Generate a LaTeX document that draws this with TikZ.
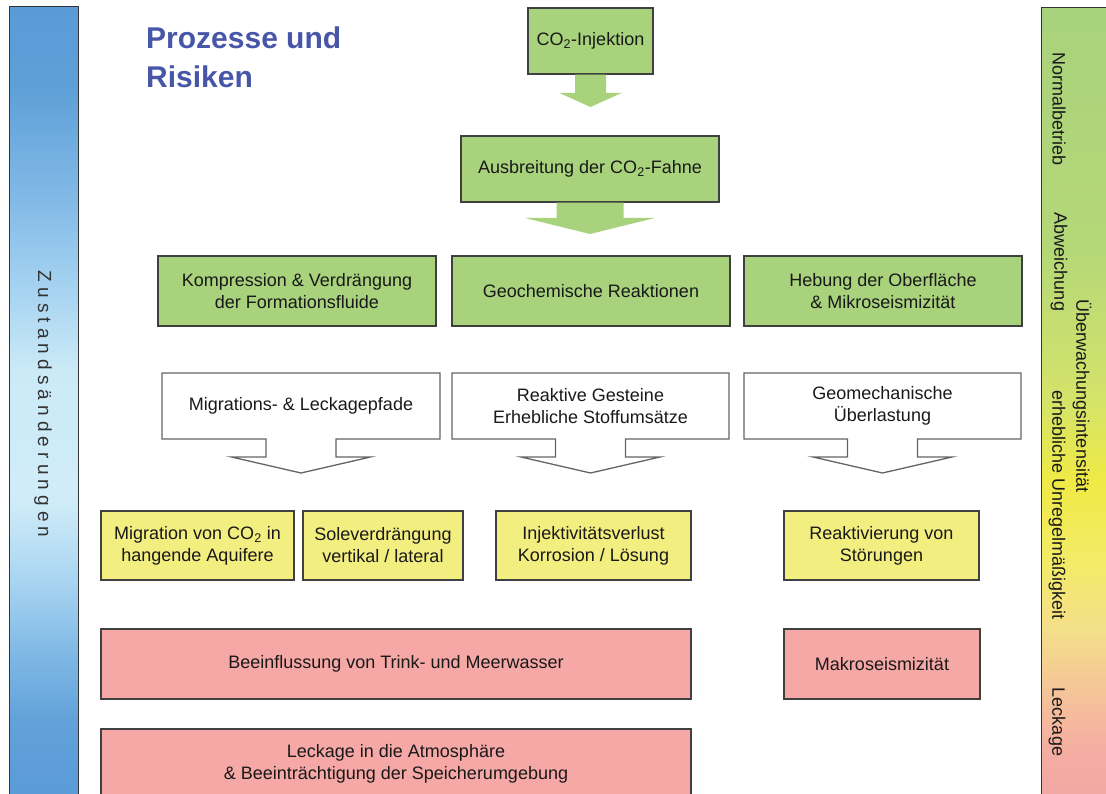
\documentclass[tikz,border=0pt]{standalone}
\usepackage{fontspec}
\setmainfont{Liberation Sans}
\usetikzlibrary{calc}

\definecolor{gruen}{RGB}{168,210,124}
\definecolor{gelb}{RGB}{243,238,128}
\definecolor{rot}{RGB}{245,168,166}
\definecolor{rahmen}{RGB}{64,64,64}
\definecolor{grau}{RGB}{100,100,100}
\definecolor{titelblau}{RGB}{72,86,168}
% Farben der Randbalken
\definecolor{za}{HTML}{5A9AD6}
\definecolor{zb}{HTML}{5FA0D8}
\definecolor{zc}{HTML}{82BAE7}
\definecolor{zd}{HTML}{ABD6F2}
\definecolor{ze}{HTML}{CBEAF7}
\definecolor{zf}{HTML}{D0ECF8}
\definecolor{zg}{HTML}{A9D5F1}
\definecolor{zh}{HTML}{7CB6E4}
\definecolor{zi}{HTML}{62A1D9}
\definecolor{ua}{HTML}{A8D27D}
\definecolor{ub}{HTML}{B5D877}
\definecolor{uc}{HTML}{D4E36A}
\definecolor{ud}{HTML}{EFEA45}
\definecolor{ue}{HTML}{F3EB66}
\definecolor{uf}{HTML}{F4DF8A}
\definecolor{ug}{HTML}{F5C09A}
\definecolor{uh}{HTML}{F5AAA3}
\definecolor{ui}{HTML}{F4A7A4}

\pgfdeclareverticalshading{zustand}{100bp}{color(0bp)=(za); color(25bp)=(za); color(30bp)=(zi); color(33.8bp)=(zh); color(38.9bp)=(zg); color(43.9bp)=(zf); color(52.1bp)=(ze); color(56.5bp)=(zd); color(62.8bp)=(zc); color(69.8bp)=(zb); color(75bp)=(za); color(100bp)=(za)}
\pgfdeclareverticalshading{ueberwachung}{100bp}{color(0bp)=(ui); color(25bp)=(ui); color(27.5bp)=(uh); color(31.3bp)=(ug); color(35.7bp)=(uf); color(40.2bp)=(ue); color(45.2bp)=(ud); color(50.3bp)=(uc); color(59.7bp)=(ub); color(75bp)=(ua); color(100bp)=(ua)}

\begin{document}
\begin{tikzpicture}[x=1pt,y=-1pt]
\tikzstyle{kasten}=[draw=rahmen,line width=1.3pt,inner sep=0pt,outer sep=0pt,align=center,text=black!90,font=\fontsize{18}{22}\selectfont]
\tikzstyle{kasten gruen}=[kasten,fill=gruen,minimum height=70]
\tikzstyle{kasten weiss}=[kasten,draw=none,minimum height=66]
\tikzstyle{kasten gelb}=[kasten,fill=gelb,minimum height=69]
\tikzstyle{kasten rot}=[kasten,fill=rot,minimum height=70]
\tikzstyle{umriss}=[draw=grau,line width=1.3pt]
\tikzstyle{balken}=[draw=black!80,line width=1pt,inner sep=0pt]
\tikzstyle{randtext}=[rotate=-90,inner sep=0pt,text=black!90,font=\fontsize{18}{22}\selectfont]

\useasboundingbox (0,0) rectangle (1106,794);

% Randbalken
\node[balken,shading=zustand,minimum width=69,minimum height=793] (v20) at (43.5,403.5) {};
\node[balken,shading=ueberwachung,minimum width=69,minimum height=792] (v21) at (1075.5,404) {};
\node[randtext,text=black!80,font=\fontsize{19}{22}\selectfont\addfontfeature{LetterSpace=27}] (v22) at (43,404) {Zustandsänderungen};
\node[randtext] (v23) at (1059,109) {Normalbetrieb};
\node[randtext] (v24) at (1059,262) {Abweichung};
\node[randtext] (v25) at (1057,505) {erhebliche Unregelmäßigkeit};
\node[randtext] (v26) at (1057,722) {Leckage};
\node[randtext] (v27) at (1082,396) {Überwachungsintensität};

\node[anchor=base west,inner sep=0pt,align=left,text=titelblau,font=\fontsize{30}{39}\selectfont\bfseries] (v0) at (146,88) {Prozesse und\\Risiken};

\node[kasten gruen,minimum width=125,minimum height=66] (v1) at (590.5,41) {CO\textsubscript{2}-Injektion};
\node[kasten gruen,minimum width=258,minimum height=66] (v2) at (590,169) {Ausbreitung der CO\textsubscript{2}-Fahne};
\node[kasten gruen,minimum width=278] (v3) at (297,291) {Kompression \& Verdrängung\\der Formationsfluide};
\node[kasten gruen,minimum width=278] (v4) at (591,291) {Geochemische Reaktionen};
\node[kasten gruen,minimum width=278] (v5) at (883,291) {Hebung der Oberfläche\\\& Mikroseismizität};
\node[kasten weiss,minimum width=278] (v6) at (301,406) {Migrations- \& Leckagepfade};
\node[kasten weiss,minimum width=277] (v7) at (590.5,406) {Reaktive Gesteine\\Erhebliche Stoffumsätze};
\node[kasten weiss,minimum width=277] (v8) at (882.5,406) {Geomechanische\\Überlastung};
\node[kasten gelb,minimum width=193] (v9) at (197.5,545.5) {Migration von CO\textsubscript{2} in\\hangende Aquifere};
\node[kasten gelb,minimum width=160] (v10) at (383,545.5) {Soleverdrängung\\vertikal / lateral};
\node[kasten gelb,minimum width=195] (v11) at (593.5,545.5) {Injektivitätsverlust\\Korrosion / Lösung};
\node[kasten gelb,minimum width=195] (v12) at (881.5,545.5) {Reaktivierung von\\Störungen};
\node[kasten rot,minimum width=590] (v13) at (396,664) {Beeinflussung von Trink- und Meerwasser};
\node[kasten rot,minimum width=196] (v14) at (882,664) {Makroseismizität};
\node[kasten rot,minimum width=590] (v15) at (396,764) {Leckage in die Atmosphäre\\\& Beeinträchtigung der Speicherumgebung};

% Blockpfeile
\fill[gruen] ($(v1.south)+(-15.5,0.65)$) -- ++(0,18.35) -- ++(-15.5,0) -- ++(31,14) -- ++(31,-14) -- ++(-15.5,0) -- ++(0,-18.35) -- cycle;
\fill[gruen] ($(v2.south)+(-33.5,0.65)$) -- ++(0,15.35) -- ++(-31.5,0) -- ++(65,16) -- ++(65,-16) -- ++(-31.5,0) -- ++(0,-15.35) -- cycle;
\draw[umriss] (v6.north west) -- (v6.north east) -- (v6.south east) -- ($(v6.south)+(35,0)$) -- ++(0,18) -- ++(34.5,0) -- ($(v6.south)+(0,34)$) -- ++(-69.5,-16) -- ++(34.5,0) -- ++(0,-18) -- (v6.south west) -- cycle;
\draw[umriss] (v7.north west) -- (v7.north east) -- (v7.south east) -- ($(v7.south)+(35,0)$) -- ++(0,18) -- ++(34.5,0) -- ($(v7.south)+(0,34)$) -- ++(-69.5,-16) -- ++(34.5,0) -- ++(0,-18) -- (v7.south west) -- cycle;
\draw[umriss] (v8.north west) -- (v8.north east) -- (v8.south east) -- ($(v8.south)+(35,0)$) -- ++(0,18) -- ++(34.5,0) -- ($(v8.south)+(0,34)$) -- ++(-69.5,-16) -- ++(34.5,0) -- ++(0,-18) -- (v8.south west) -- cycle;
\end{tikzpicture}
\end{document}
